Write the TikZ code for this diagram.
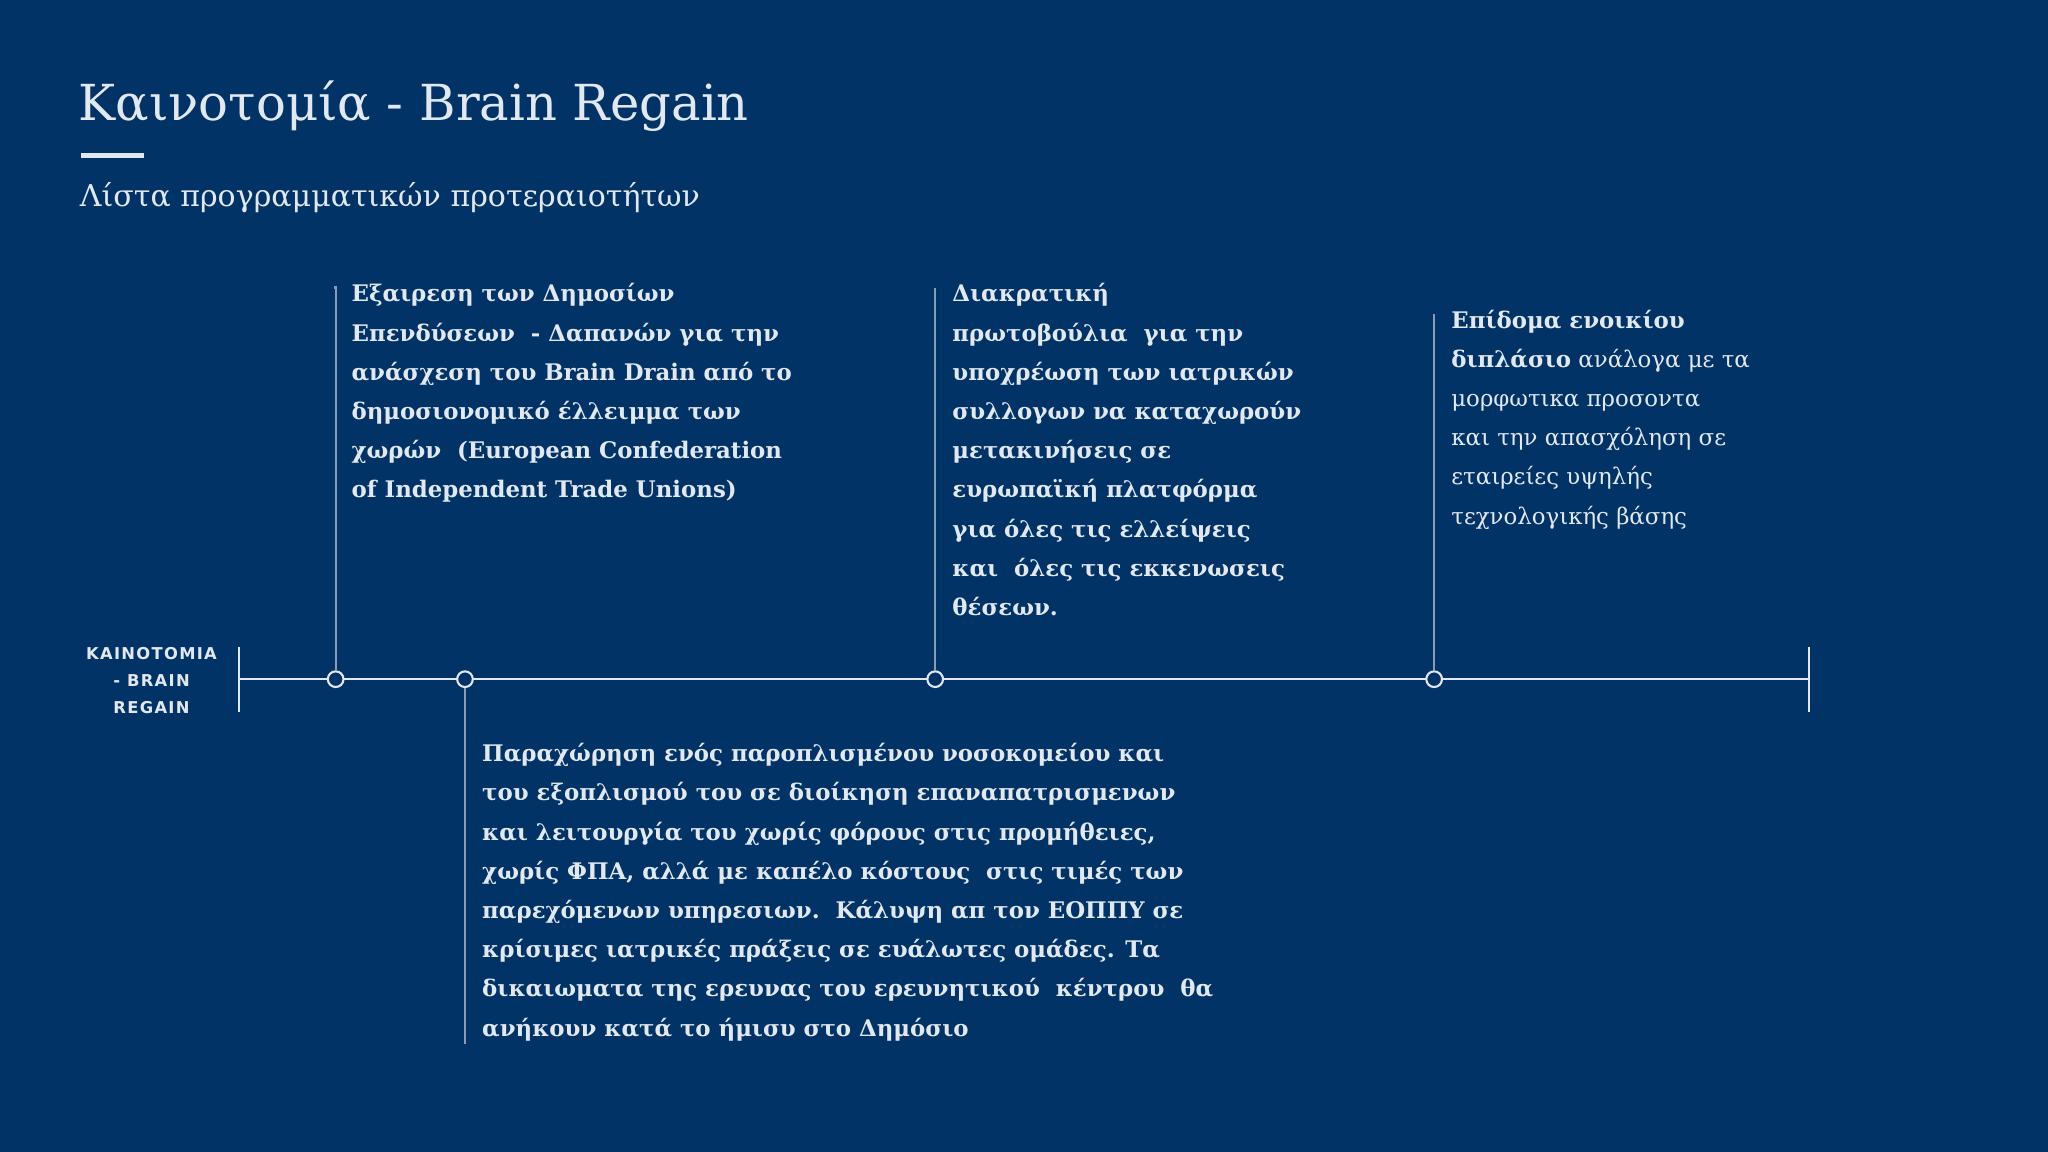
\documentclass[tikz,border=0pt]{standalone}
\usepackage{fontspec}
\setmainfont{DejaVu Serif}
\newfontfamily\lblfont[LetterSpace=8]{DejaVu Sans}
\definecolor{bg}{HTML}{013366}
\definecolor{txt}{HTML}{E2E8F0}
\definecolor{vline}{HTML}{8A9BB8}
\tikzset{
  blk/.style={anchor=north west,inner sep=0pt,align=left,text=txt,font=\fontsize{17.5}{30}\selectfont\bfseries},
  vl/.style={draw=vline,line width=1.6pt},
  dot/.style={circle,draw=txt,fill=bg,line width=1.6pt,minimum size=12pt,inner sep=0pt}
}
\begin{document}
\begin{tikzpicture}[x=1pt,y=-1pt]
\fill[bg] (0,0) rectangle (1568,882);
\useasboundingbox (0,0) rectangle (1568,882);
\node[anchor=base west,inner sep=0pt,text=txt,font=\fontsize{38}{40}\selectfont] (title) at (60,92) {Καινοτομία - Brain Regain};
\fill[txt] (62,117) rectangle (110,121);
\node[anchor=base west,inner sep=0pt,text=txt,font=\fontsize{23}{26}\selectfont] (sub) at (61,158) {Λίστα προγραμματικών προτεραιοτήτων};
% timeline
\coordinate (L) at (183,520); \coordinate (R) at (1385,520);
\draw[txt,line width=2pt] (L) -- (R);
\draw[txt,line width=2pt] (183,495) -- (183,545);
\draw[txt,line width=2pt] (1385,495) -- (1385,545);
\node[vl,inner sep=0] (t1) at (257,220) {}; \node[dot] (d1) at (257,520) {};
\node[inner sep=0] (t2) at (356,800) {}; \node[dot] (d2) at (356,520) {};
\node[inner sep=0] (t3) at (716,220) {}; \node[dot] (d3) at (716,520) {};
\node[inner sep=0] (t4) at (1098,240) {}; \node[dot] (d4) at (1098,520) {};
\draw[vl] (t1) -- (d1); \draw[vl] (t2) -- (d2); \draw[vl] (t3) -- (d3); \draw[vl] (t4) -- (d4);
\node[anchor=center,align=center,text=txt,font=\fontsize{12.5}{21}\selectfont\lblfont\bfseries] (lbl) at (116,521) {KAINOTOMIA\\- BRAIN\\REGAIN};
\node[blk] (b1) at (269,217) {Εξαιρεση των Δημοσίων\\Επενδύσεων\ \ - Δαπανών για την\\ανάσχεση του Brain Drain από το\\δημοσιονομικό έλλειμμα των\\χωρών\ \ (European Confederation\\of Independent Trade Unions)};
\node[blk] (b3) at (729,217) {Διακρατική\\πρωτοβούλια\ \ για την\\υποχρέωση των ιατρικών\\συλλογων να καταχωρούν\\μετακινήσεις σε\\ευρωπαϊκή πλατφόρμα\\για όλες τις ελλείψεις\\και\ \ όλες τις εκκενωσεις\\θέσεων.};
\node[blk,font=\fontsize{17.5}{30}\selectfont] (b4) at (1111,237) {\textbf{Επίδομα ενοικίου}\\\textbf{διπλάσιο} ανάλογα με τα\\μορφωτικα προσοντα\\και την απασχόληση σε\\εταιρείες υψηλής\\τεχνολογικής βάσης};
\node[blk] (b2) at (369,569) {Παραχώρηση ενός παροπλισμένου νοσοκομείου και\\του εξοπλισμού του σε διοίκηση επαναπατρισμενων\\και λειτουργία του χωρίς φόρους στις προμήθειες,\\χωρίς ΦΠΑ, αλλά με καπέλο κόστους\ \ στις τιμές των\\παρεχόμενων υπηρεσιων.\ \ Κάλυψη απ τον ΕΟΠΠΥ σε\\κρίσιμες ιατρικές πράξεις σε ευάλωτες ομάδες. Τα\\δικαιωματα της ερευνας του ερευνητικού\ \ κέντρου\ \ θα\\ανήκουν κατά το ήμισυ στο Δημόσιο};
\end{tikzpicture}
\end{document}
